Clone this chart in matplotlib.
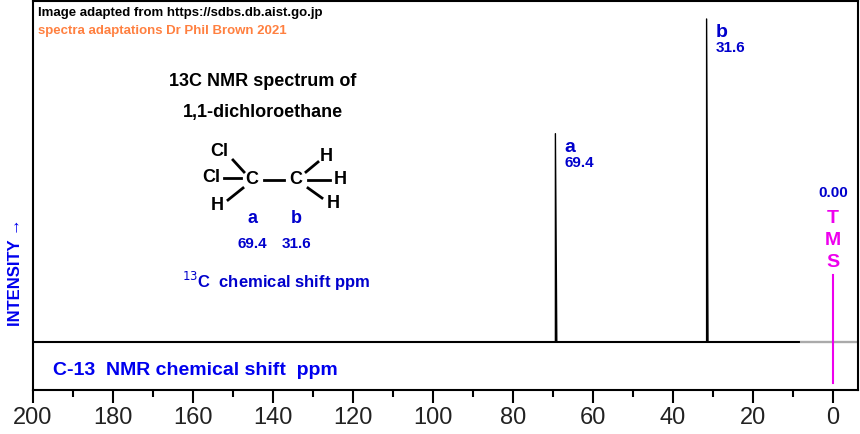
import matplotlib
matplotlib.use("Agg")
import matplotlib.pyplot as plt
plt.rcParams['font.family'] = ['Liberation Sans', 'DejaVu Sans']

shifts = [69.4, 31.6]
heights = [209, 324]
labels = ["a", "b"]
tms = 0.0

W, H = 860, 434
fig = plt.figure(figsize=(W/100, H/100), dpi=100)
L, R, B, T = 33, 858, 390, 1
ax = fig.add_axes([L/W, 1-B/H, (R-L)/W, (B-T)/H])
ax.set_xlim(200, -6.25)
ax.set_ylim(-48, 342)
for s in ax.spines.values():
    s.set_color("black"); s.set_linewidth(1.5)
ax.set_xticks(range(0, 201, 20))
ax.set_xticks(range(10, 200, 20), minor=True)
ax.tick_params(axis="x", which="major", length=9, width=1.5, labelsize=17, pad=3, labelcolor="#222")
ax.tick_params(axis="x", which="minor", length=5, width=1.5)
ax.set_yticks([])
ax.axhline(0, color="black", lw=1.5)
ax.plot([8, -6.25], [0, 0], color="#aaa", lw=1.5)

for s, h, lab in zip(shifts, heights, labels):
    ax.plot([s+0.35, s, s, s-0.35], [0, 0, h, 0], color="black", lw=1.0)
    ax.text(s-2.2, h-5, lab, color="#0000cc", fontsize=14, fontweight="bold", va="top")
    ax.text(s-2.2, h-22, f"{s}", color="#0000cc", fontsize=11, fontweight="bold", va="top")
ax.plot([tms, tms], [67, -41], color="#ee00ee", lw=1.5)
ax.text(tms, 150, "0.00", color="#0000cc", fontsize=11, fontweight="bold", ha="center", va="center")
for i, ch in enumerate("TMS"):
    ax.text(tms, 124 - i*22, ch, color="#ee00ee", fontsize=14, fontweight="bold", ha="center", va="center")

ax.text(195, -28, "C-13  NMR chemical shift  ppm", color="#0000ee", fontsize=14, fontweight="bold", va="center")
fig.text(16/W, 1-272/H, "INTENSITY \u2192", color="#0000ee", fontsize=12, fontweight="bold", rotation=90, ha="center", va="center")
fig.text(38/W, 1-13/H, "Image adapted from https://sdbs.db.aist.go.jp", fontsize=9.5, fontweight="bold", va="center")
fig.text(38/W, 1-31/H, "spectra adaptations Dr Phil Brown 2021", fontsize=9.5, fontweight="bold", color="#ff8040", va="center")
fig.text(263/W, 1-81/H, "13C NMR spectrum of", fontsize=13, fontweight="bold", ha="center", va="center")
fig.text(263/W, 1-113/H, "1,1-dichloroethane", fontsize=13, fontweight="bold", ha="center", va="center")

def t(x, y, s, **k):
    fig.text(x/W, 1-y/H, s, fontsize=13, fontweight="bold", ha="center", va="center", **k)
t(219, 152, "Cl"); t(211, 178, "Cl"); t(252, 180, "C"); t(296, 180, "C")
t(217, 205, "H"); t(326, 157, "H"); t(340, 180, "H"); t(333, 203, "H")
for (x1, y1, x2, y2) in [(233, 160, 244, 172), (224, 178, 241, 178), (228, 200, 243, 188),
                         (264, 180, 284, 180), (306, 172, 318, 162), (308, 180, 330, 180), (308, 188, 322, 198)]:
    fig.add_artist(plt.Line2D([x1/W, x2/W], [1-y1/H, 1-y2/H], color="black", lw=2))
t(252, 218, "a", color="#0000cc"); t(296, 218, "b", color="#0000cc")
fig.text(252/W, 1-244/H, "69.4", fontsize=11, fontweight="bold", color="#0000cc", ha="center", va="center")
fig.text(296/W, 1-244/H, "31.6", fontsize=11, fontweight="bold", color="#0000cc", ha="center", va="center")
fig.text(182/W, 1-281/H, "$^{13}$C  chemical shift ppm", fontsize=12, fontweight="bold", color="#0000cc", va="center")

fig.savefig("out.png", dpi=100)
